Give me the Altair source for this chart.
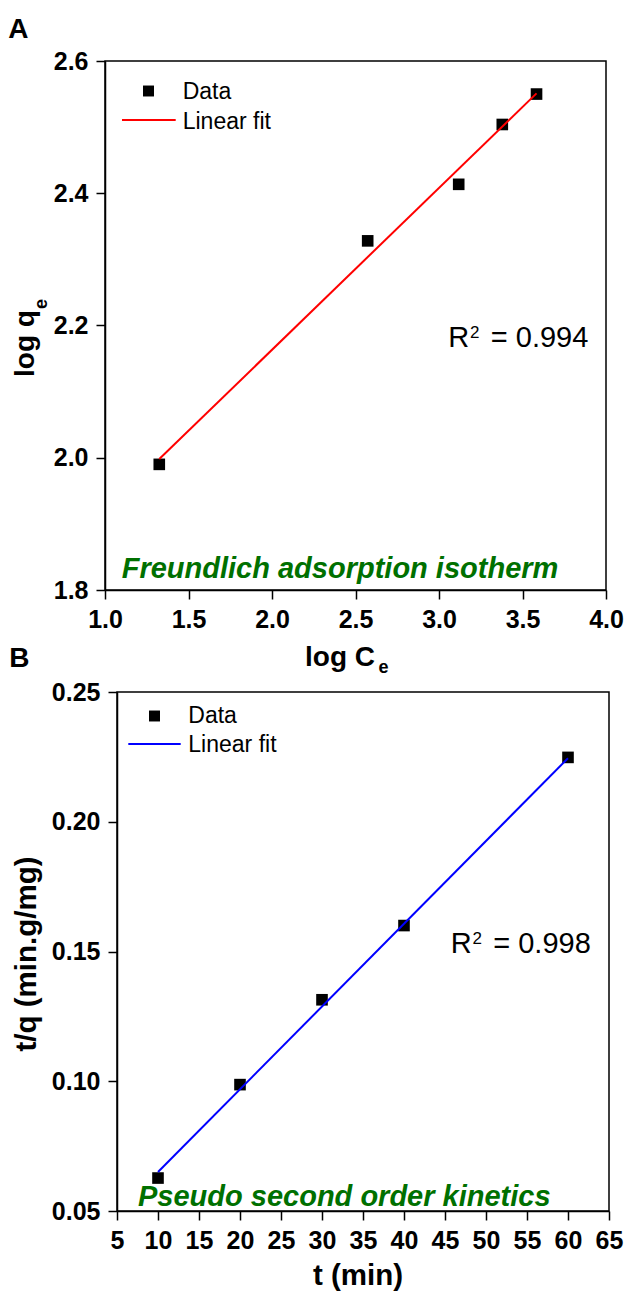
import altair as alt
import pandas as pd

# ---------------- Panel A: Freundlich isotherm ----------------
log_ce = [1.325, 2.573, 3.118, 3.379, 3.584]
log_qe = [1.990, 2.328, 2.4135, 2.504, 2.550]
fit_a_x = [1.325, 3.584]
fit_a_y = [1.998, 2.551]
a_x_ticks = [1.0, 1.5, 2.0, 2.5, 3.0, 3.5, 4.0]
a_y_ticks = [1.8, 2.0, 2.2, 2.4, 2.6]
a_r2_value = "= 0.994"
a_r2_pos = [3.0557, 2.1675]
a_model_text = ["Freundlich adsorption isotherm"]
a_model_pos = [1.10, 1.8186]

# ---------------- Panel B: pseudo second order ----------------
t_min = [10, 20, 30, 40, 60]
t_over_q = [0.0627, 0.0987, 0.1314, 0.160, 0.2248]
fit_b_x = [10, 60]
fit_b_y = [0.065, 0.2245]
b_x_ticks = [5, 10, 15, 20, 25, 30, 35, 40, 45, 50, 55, 60, 65]
b_y_ticks = [0.05, 0.10, 0.15, 0.20, 0.25]
b_r2_value = "= 0.998"
b_r2_pos = [45.7, 0.1494]
b_model_text = ["Pseudo second order kinetics"]
b_model_pos = [7.56, 0.0519]

FONT = "Liberation Sans"
GREEN = "#007000"

# Both panels share the same group origin x on the page (117); panel A's plot
# box starts 12 px further left, handled through its scale range and axis offset.
GX = 117
A_OY = 60
B_OY = 694
A_LEFT = -12          # panel A plot left edge relative to the group origin
A_W, A_H = 489, 529   # group width of A (right edge at 606), plot height
B_W, B_H = 492, 519


def ax(values, fmt, orient, offset=0):
    return alt.Axis(values=values, format=fmt, title=None, grid=False, offset=offset,
                    orient=orient, labelFlush=False, labelOverlap=False)


def one():
    return alt.Chart(pd.DataFrame({"k": [0]}))


def label(text, px, py, size, weight="normal", angle=0, align="left", color="black",
          style="normal", oy=0):
    return one().mark_text(
        text=text, font=FONT, fontSize=size, fontWeight=weight, angle=angle,
        align=align, baseline="alphabetic", color=color, fontStyle=style,
    ).encode(x=alt.value(px - GX), y=alt.value(py - oy))


def box(x0, x1, h):
    return one().mark_rect(fillOpacity=0, stroke="black", strokeWidth=1.5).encode(
        x=alt.value(x0), x2=alt.value(x1), y=alt.value(0), y2=alt.value(h))


def panel(xs, ys, fx, fy, xdom, ydom, xrange, xticks, yticks, xfmt, yfmt, yoffset,
          line_color, r2_value, r2_pos, model_text, model_pos):
    sx = alt.Scale(domain=xdom, range=xrange, zero=False, nice=False)
    sy = alt.Scale(domain=ydom, zero=False, nice=False)
    X = lambda f: alt.X(f, type="quantitative", scale=sx, axis=ax(xticks, xfmt, "bottom"))
    Y = lambda f: alt.Y(f, type="quantitative", scale=sy, axis=ax(yticks, yfmt, "left", yoffset))

    pts = alt.Chart(pd.DataFrame({"x": xs, "y": ys})).mark_point(
        shape="square", filled=True, size=135, color="black", opacity=1
    ).encode(x=X("x"), y=Y("y"))
    fit = alt.Chart(pd.DataFrame({"x": fx, "y": fy})).mark_line(
        color=line_color, strokeWidth=2
    ).encode(x=X("x"), y=Y("y"))

    r2_df = pd.DataFrame({"x": [r2_pos[0]], "y": [r2_pos[1]]})
    def r2_part(text, size, dx, dy):
        return alt.Chart(r2_df).mark_text(
            text=text, font=FONT, fontSize=size, align="left", baseline="alphabetic",
            color="black", dx=dx, dy=dy
        ).encode(x=X("x"), y=Y("y"))
    r2 = [r2_part("R", 29, 0, 0), r2_part("2", 17, 21.7, -9), r2_part(r2_value, 29, 42.5, 0)]

    model = alt.Chart(pd.DataFrame({"x": [model_pos[0]], "y": [model_pos[1]], "t": model_text})).mark_text(
        font=FONT, fontSize=29, fontWeight="bold", fontStyle="italic", align="left",
        baseline="alphabetic", color=GREEN
    ).encode(x=X("x"), y=Y("y"), text="t:N")
    return [pts, fit, *r2, model]


# ---------------- Panel A ----------------
layers_a = panel(log_ce, log_qe, fit_a_x, fit_a_y, [1.0, 4.0], [1.8, 2.6], [A_LEFT, A_W],
                 a_x_ticks, a_y_ticks, ".1f", ".1f", -A_LEFT, "#ff0000",
                 a_r2_value, a_r2_pos, a_model_text, a_model_pos)
oa = dict(oy=A_OY)
leg_a = [
    one().mark_point(shape="square", filled=True, size=120, color="black", opacity=1)
    .encode(x=alt.value(148.5 - GX), y=alt.value(90 - A_OY)),
    label("Data", 182.7, 97.7, 23, **oa),
    one().mark_rule(color="#ff0000", strokeWidth=2)
    .encode(x=alt.value(122 - GX), x2=alt.value(175.7 - GX), y=alt.value(119 - A_OY)),
    label("Linear fit", 182.7, 128.3, 23, **oa),
]
deco_a = [
    box(A_LEFT, A_W, A_H),
    label("A", 8.3, 37.3, 28, "bold", **oa),
    label("B", 9.3, 666, 28, "bold", **oa),
    label("log C", 305, 665, 28, "bold", **oa),
    label("e", 378.5, 672, 18, "bold", **oa),
    label("log q", 33.5, 376, 28, "bold", angle=270, **oa),
    label("e", 47, 308, 18, "bold", angle=270, **oa),
]
panel_a = alt.layer(*layers_a, *leg_a, *deco_a).properties(width=A_W, height=A_H)

# ---------------- Panel B ----------------
layers_b = panel(t_min, t_over_q, fit_b_x, fit_b_y, [5, 65], [0.05, 0.25], [0, B_W],
                 b_x_ticks, b_y_ticks, "d", ".2f", 0, "#0000ff",
                 b_r2_value, b_r2_pos, b_model_text, b_model_pos)
ob = dict(oy=B_OY)
leg_b = [
    one().mark_point(shape="square", filled=True, size=120, color="black", opacity=1)
    .encode(x=alt.value(154.5 - GX), y=alt.value(718 - B_OY)),
    label("Data", 188.3, 725, 23, **ob),
    one().mark_rule(color="#0000ff", strokeWidth=2)
    .encode(x=alt.value(128.3 - GX), x2=alt.value(180.7 - GX), y=alt.value(746 - B_OY)),
    label("Linear fit", 188.3, 754.3, 23, **ob),
]
deco_b = [
    box(0, B_W, B_H),
    label("t (min)", 358, 1287, 29.5, "bold", align="center", **ob),
    label("t/q (min.g/mg)", 36, 956, 29.5, "bold", angle=270, align="center", **ob),
]
panel_b = alt.layer(*layers_b, *leg_b, *deco_b).properties(width=B_W, height=B_H)

chart = alt.vconcat(panel_a, panel_b, spacing=3).properties(
    padding={"left": 8, "top": 16, "right": 5, "bottom": 5}
).configure_view(
    strokeWidth=0
).configure_axis(
    domainColor="black", domainWidth=1.5, tickColor="black", tickWidth=1.5,
    tickSize=9, labelFont=FONT, labelFontSize=25, labelFontWeight="bold",
    labelColor="black", labelPadding=8, grid=False,
)

chart.save("out.html", embed_options={"renderer": "svg", "actions": False})
